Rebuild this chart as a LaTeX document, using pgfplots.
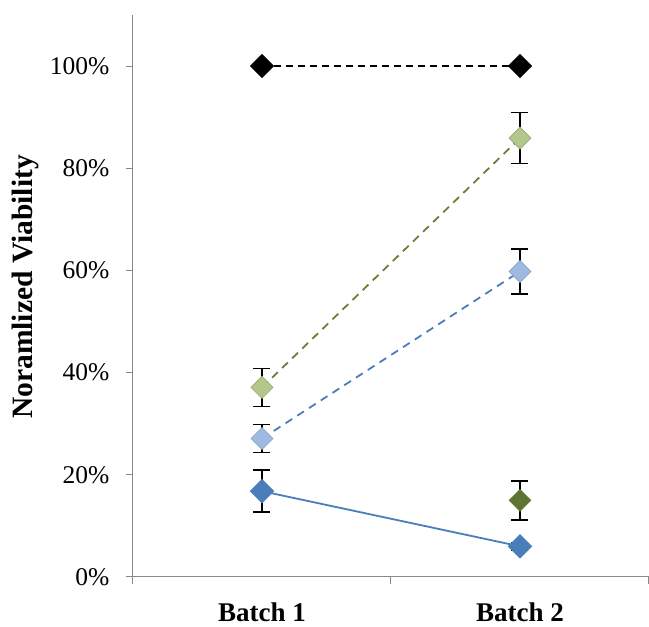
\documentclass[border=0pt]{standalone}
\usepackage{fontspec}
\setmainfont{Liberation Serif}
\usepackage{pgfplots}
\pgfplotsset{compat=1.18}
\definecolor{axgray}{HTML}{898989}
\definecolor{dblue}{HTML}{4A7EBB}
\definecolor{lblue}{HTML}{9DBBE0}
\definecolor{dgreen}{HTML}{5E7432}
\definecolor{lgreen}{HTML}{B3C78A}
\definecolor{greenline}{HTML}{6B7F36}
\definecolor{blueline}{HTML}{4A7EBB}
\begin{document}
\begin{tikzpicture}
\begin{axis}[
  scale only axis, width=516pt, height=562pt,
  xmin=0.5, xmax=2.5, ymin=0, ymax=110,
  axis x line=bottom, axis y line=left,
  axis line style={axgray, line width=1pt, -},
  xtick={1,2}, xticklabels={Batch 1, Batch 2},
  minor xtick={0.5,1.5,2.5},
  major x tick style={draw=none},
  minor x tick style={axgray, line width=1pt},
  ytick={0,20,...,100},
  yticklabel={\pgfmathprintnumber{\tick}\%},
  /pgf/number format/assume math mode=true,
  y tick style={axgray, line width=1pt},
  tick align=outside, major tick length=7pt, minor tick length=7pt,
  yticklabel style={font=\fontsize{25.5}{28}\selectfont, xshift=-13pt},
  xticklabel style={font=\bfseries\fontsize{27}{30}\selectfont, anchor=base, yshift=-38pt},
  every axis y label/.style={at={(rel axis cs:0,0.516)}, anchor=center, xshift=-108pt, rotate=90},
  ylabel={\bfseries\fontsize{29.5}{32}\selectfont Noramlized Viability},
  clip=false,
  error bars/error bar style={black, line width=1.5pt, solid},
  error bars/error mark options={rotate=90, black, mark size=8.5pt, line width=1.5pt, solid},
]
\coordinate (O) at (rel axis cs:0,0);
% black reference
\addplot[black, line width=1.5pt, dash pattern=on 7pt off 5pt,
  mark=square*, mark size=7.8pt, mark options={rotate=45, solid, fill=black}]
  coordinates {(1,100) (2,100)};
% light green
\addplot[greenline, line width=1.8pt, dash pattern=on 8pt off 6pt,
  mark=square*, mark size=7.8pt, mark options={rotate=45, solid, fill=lgreen, draw=lgreen!85!black, line width=0.6pt},
  error bars/.cd, y dir=both, y explicit]
  coordinates {(1,37.1) +- (0,3.7) (2,85.9) +- (0,5.0)};
% light blue
\addplot[blueline, line width=1.8pt, dash pattern=on 8pt off 6pt,
  mark=square*, mark size=7.8pt, mark options={rotate=45, solid, fill=lblue, draw=lblue!85!black, line width=0.6pt},
  error bars/.cd, y dir=both, y explicit]
  coordinates {(1,27.1) +- (0,2.7) (2,59.8) +- (0,4.4)};
% dark blue solid
\addplot[dblue, line width=1.8pt,
  mark=square*, mark size=7.8pt, mark options={rotate=45, solid, fill=dblue, draw=dblue},
  error bars/.cd, y dir=both, y explicit]
  coordinates {(1,16.8) +- (0,4.1) (2,6.0) +- (0,0.8)};
% dark green single point
\addplot[only marks,
  mark=square*, mark size=7.8pt, mark options={rotate=45, solid, fill=dgreen, draw=dgreen},
  error bars/.cd, y dir=both, y explicit]
  coordinates {(2,15.0) +- (0,3.8)};
\end{axis}
\pgfresetboundingbox
\path (O) ++(-133pt,-50pt) rectangle ++(649pt,627pt);
\end{tikzpicture}
\end{document}
